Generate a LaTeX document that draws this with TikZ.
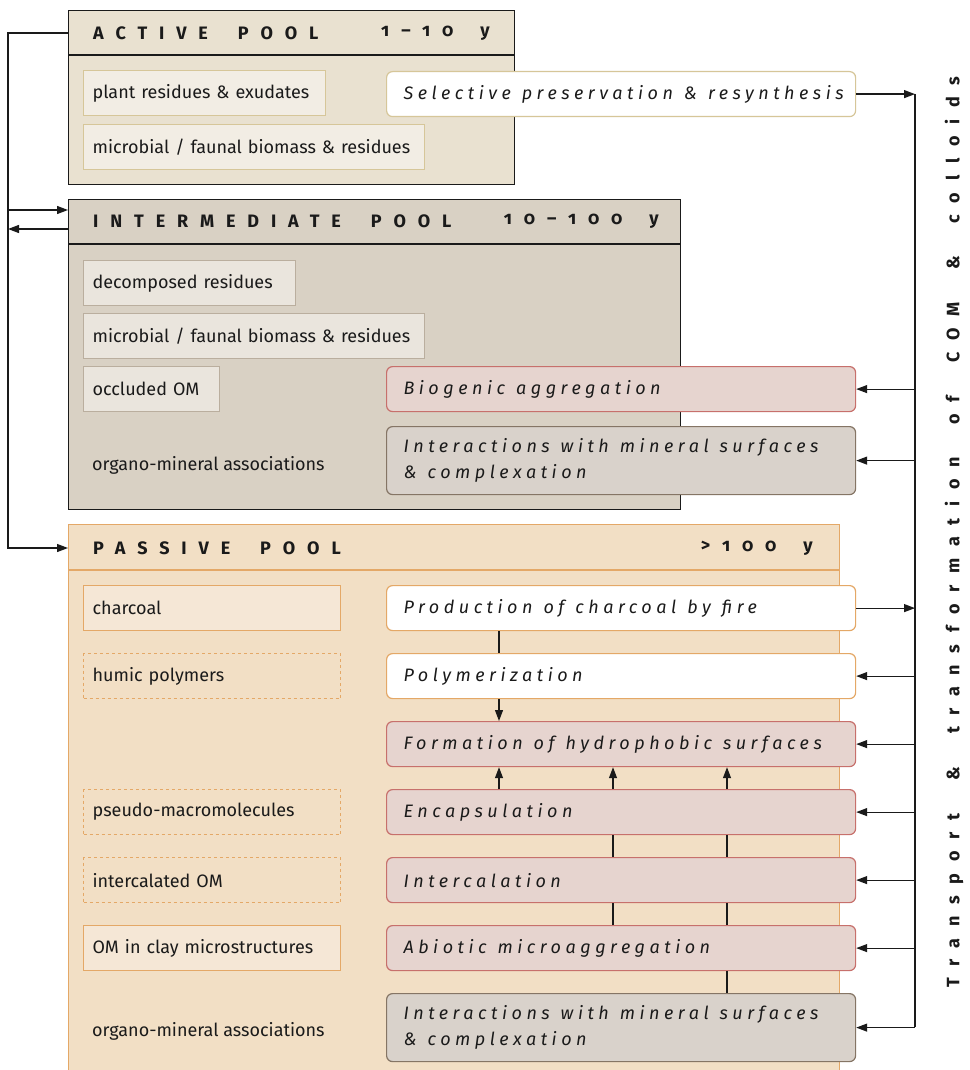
\documentclass[tikz,border=0pt]{standalone}
\usepackage{fontspec}
\setmainfont{Fira Sans}
\newfontfamily\hdrfont[LetterSpace=66,Numbers=OldStyle]{Fira Sans}
\newfontfamily\procfont[LetterSpace=25]{Fira Sans}
\newfontfamily\vfont[LetterSpace=65]{Fira Sans}
\usetikzlibrary{arrows.meta,calc}
\newcommand\ws{\space\hspace{5pt}}
\newcommand\hws{\hspace{30pt}}
\newcommand\nws{\hspace{27pt}}
\newcommand\vws{\hspace{33pt}}
\definecolor{actfill}{HTML}{E9E1D0}
\definecolor{actin}{HTML}{F2EDE4}
\definecolor{actbd}{HTML}{D6C699}
\definecolor{intfill}{HTML}{D9D1C4}
\definecolor{intin}{HTML}{EAE5DD}
\definecolor{intbd}{HTML}{BAAE9E}
\definecolor{pasfill}{HTML}{F2DFC5}
\definecolor{pasbd}{HTML}{E4A867}
\definecolor{pasin}{HTML}{F5E7D6}
\definecolor{pinkfill}{HTML}{E6D4CF}
\definecolor{pinkbd}{HTML}{C7706C}
\definecolor{grayfill}{HTML}{D9D2CB}
\definecolor{graybd}{HTML}{857565}
\definecolor{ink}{HTML}{1A1A1A}
\tikzset{
  poolbox/.style={anchor=north west, line width=1.2pt, inner sep=0pt},
  hdrtxt/.style={font=\hdrfont\bfseries\fontsize{18}{20}\selectfont, text=ink, inner sep=0pt},
  ibox/.style={anchor=north west, line width=1.2pt, inner xsep=9pt, inner ysep=0pt,
    minimum height=45pt, align=left, font=\fontsize{18}{21}\selectfont, text=ink},
  pbox/.style={anchor=north west, line width=1.2pt, rounded corners=6pt, inner xsep=17pt,
    inner ysep=0pt, minimum height=45pt, text width=435pt, align=left,
    font=\procfont\itshape\fontsize{18}{26}\selectfont, text=ink},
  plain/.style={anchor=west, inner sep=0pt, font=\fontsize{18}{21}\selectfont, text=ink},
  arr/.style={line width=1.2pt, draw=ink, -{Triangle[length=11pt,width=8pt]}},
  conn/.style={line width=1.2pt, draw=ink},
  vlabel/.style={font=\vfont\bfseries\fontsize{18}{20}\selectfont, text=ink, inner sep=0pt},
}
\begin{document}
\begin{tikzpicture}[x=1pt,y=-1pt]
\useasboundingbox[fill=white] (0,0) rectangle (969,1070);

% ---------- pools
\node[poolbox, fill=actfill, draw=ink, minimum width=446pt, minimum height=174pt] (active) at (68,10) {};
\draw[line width=1.2pt, ink] (68,55) -- (514,55);
\node[poolbox, fill=intfill, draw=ink, minimum width=612pt, minimum height=310pt] (inter) at (68,199) {};
\draw[line width=1.2pt, ink] (68,244) -- (680,244);
\node[poolbox, fill=pasfill, draw=pasbd, minimum width=771pt, minimum height=560pt] (passive) at (68,524) {};
\draw[line width=1.2pt, pasbd] (68,570) -- (839,570);

% headers
\node[hdrtxt, anchor=west] (activeT) at (93,33) {ACTIVE\hws POOL};
\node[hdrtxt, anchor=east] (activeY) at (490,33) {1–10\nws y};
\node[hdrtxt, anchor=west] (interT) at (93,221) {INTERMEDIATE\hws POOL};
\node[hdrtxt, anchor=east] (interY) at (659,221) {10–100\nws y};
\node[hdrtxt, anchor=west] (passiveT) at (93,548) {PASSIVE\hws POOL};
\node[hdrtxt, anchor=east] (passiveY) at (813,548) {>100\nws y};

% ---------- active contents
\node[ibox, fill=actin, draw=actbd, text width=224pt] (a1) at (83,70) {plant residues \& exudates};
\node[ibox, fill=actin, draw=actbd, text width=323pt] (a2) at (83,124) {microbial / faunal biomass \& residues};
\node[pbox, fill=white, draw=actbd] (sel) at (386,71) {Selective\ws preservation\ws \&\ws resynthesis};

% ---------- intermediate contents
\node[ibox, fill=intin, draw=intbd, text width=194pt] (i1) at (83,260) {decomposed residues};
\node[ibox, fill=intin, draw=intbd, text width=323pt] (i2) at (83,313) {microbial / faunal biomass \& residues};
\node[ibox, fill=intin, draw=intbd, text width=118pt] (i3) at (83,366) {occluded OM};
\node[plain] (i4) at (92,465) {organo-mineral associations};
\node[pbox, fill=pinkfill, draw=pinkbd] (bio) at (386,366) {Biogenic\ws aggregation};
\node[pbox, fill=grayfill, draw=graybd, minimum height=68pt] (imin) at (386,426) {Interactions\ws with\ws mineral\ws surfaces\\\&\ws complexation};

% ---------- passive contents
\node[ibox, fill=pasin, draw=pasbd, text width=239pt] (p1) at (83,585) {charcoal};
\node[ibox, draw=pasbd, dashed, text width=239pt] (p2) at (83,653) {humic polymers};
\node[ibox, draw=pasbd, dashed, text width=239pt] (p3) at (83,789) {pseudo-macromolecules};
\node[ibox, draw=pasbd, dashed, text width=239pt] (p4) at (83,857) {intercalated OM};
\node[ibox, fill=pasin, draw=pasbd, text width=239pt] (p5) at (83,925) {OM in clay microstructures};
\node[plain] (p6) at (92,1031) {organo-mineral associations};

\node[pbox, fill=white, draw=pasbd] (prod) at (386,585) {Production\ws of\ws charcoal\ws by\ws fire};
\node[pbox, fill=white, draw=pasbd] (poly) at (386,653) {Polymerization};
\node[pbox, fill=pinkfill, draw=pinkbd] (form) at (386,721) {Formation\ws of\ws hydrophobic\ws surfaces};
\node[pbox, fill=pinkfill, draw=pinkbd] (enc) at (386,789) {Encapsulation};
\node[pbox, fill=pinkfill, draw=pinkbd] (intc) at (386,857) {Intercalation};
\node[pbox, fill=pinkfill, draw=pinkbd] (abio) at (386,925) {Abiotic\ws microaggregation};
\node[pbox, fill=grayfill, draw=graybd, minimum height=68pt] (pmin) at (386,993) {Interactions\ws with\ws mineral\ws surfaces\\\&\ws complexation};

% ---------- internal connectors
\coordinate (c1) at (499,0);
\coordinate (c2) at (613,0);
\coordinate (c3) at (727,0);
\draw[conn] (prod.south -| c1) -- (poly.north -| c1);
\draw[arr] (poly.south -| c1) -- (form.north -| c1);
\foreach \c in {c1,c2,c3} \draw[arr] (enc.north -| \c) -- (form.south -| \c);
\foreach \c in {c2,c3} {
  \draw[conn] (enc.south -| \c) -- (intc.north -| \c);
  \draw[conn] (intc.south -| \c) -- (abio.north -| \c);
}
\draw[conn] (abio.south -| c3) -- (pmin.north -| c3);

% ---------- left connectors
\coordinate (lb) at (8,548);
\coordinate (iin) at (8,210);
\coordinate (iout) at (8,229);
\draw[arr] (activeT -| active.west) -| (lb) -- (passiveT -| passive.west);
\draw[arr] (iin) -- (iin -| inter.west);
\draw[arr] (iout -| inter.west) -- (iout);

% ---------- right bus
\coordinate (bt) at (915,94);
\coordinate (bb) at (915,1027);
\draw[conn] (bt) -- (bb);
\draw[arr] (sel.east) -- (sel.east -| bt);
\draw[arr] (prod.east) -- (prod.east -| bt);
\foreach \n in {bio,imin,poly,form,enc,intc,abio,pmin}
  \draw[arr] (\n.east -| bt) -- (\n.east);

\node[vlabel, rotate=90] (vl) at (954,532) {Transport\vws\&\vws transformation\vws of\vws COM\vws\&\vws colloids};
\end{tikzpicture}
\end{document}
